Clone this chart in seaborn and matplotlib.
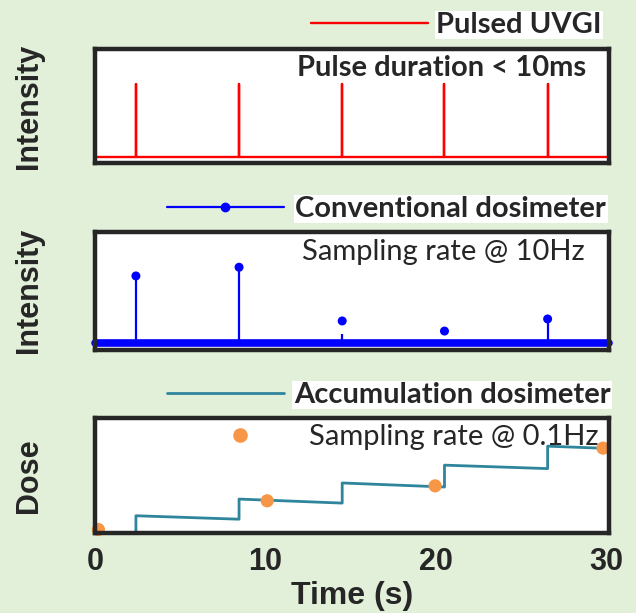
import numpy as np
import pandas as pd
import matplotlib
matplotlib.use("Agg")
import matplotlib.pyplot as plt
from matplotlib.lines import Line2D
import seaborn as sns

# pulse times (s) shared by all three panels
pulse_times = [2.4, 8.45, 14.5, 20.5, 26.55]
t_end = 30.15

# panel 1: pulsed UVGI intensity
uvgi_base = 0.055
uvgi_peak = [0.69, 0.69, 0.69, 0.69, 0.69]

# panel 2: conventional dosimeter (10 Hz)
conv_base = 0.055
conv_peak = [0.626, 0.70, 0.243, 0.157, 0.26]
conv_stem_top = [0.626, 0.70, 0.13, 0.055, 0.26]

# panel 3: accumulation dosimeter
dose_step_start = [0.15, 0.295, 0.435, 0.59, 0.755]
dose_step_end = [0.12, 0.26, 0.40, 0.56, 0.735]
sample_times = [0.2, 10.1, 19.95, 29.8]
sample_dose = [0.03, 0.28, 0.41, 0.738]

x_ticks = [0, 10, 20, 30]

bg = "#e2efd9"
dark = "#262626"
red = "#ff0000"
blue = "#0000ff"
teal = "#2f859b"
orange = "#f79646"

sns.set_theme(style="white")
plt.rcParams["font.family"] = ["Liberation Sans", "DejaVu Sans"]

# build the line tables
ux, uy = [0.0], [uvgi_base]
for t, p in zip(pulse_times, uvgi_peak):
    ux += [t, t, t]
    uy += [uvgi_base, p, uvgi_base]
ux.append(t_end)
uy.append(uvgi_base)
uvgi = pd.DataFrame({"time": ux, "intensity": uy})

dx, dy = [0.0, pulse_times[0]], [0.0, 0.0]
ends = pulse_times[1:] + [t_end]
for t, t2, s0, s1 in zip(pulse_times, ends, dose_step_start, dose_step_end):
    dx += [t, t2]
    dy += [s0, s1]
dose = pd.DataFrame({"time": dx, "dose": dy})

fig = plt.figure(figsize=(6.36, 6.13), dpi=100, facecolor=bg)
W, H = 636, 613
L, R = 95, 609
ax1 = fig.add_axes([L / W, 1 - 163 / H, (R - L) / W, 114 / H])
ax2 = fig.add_axes([L / W, 1 - 349.5 / H, (R - L) / W, 117.5 / H])
ax3 = fig.add_axes([L / W, 1 - 533 / H, (R - L) / W, 115 / H])

fs = 21
leg_font = dict(family="Lato", weight="bold", size=fs)
lab_font = dict(family="Liberation Sans", weight="bold", size=22, color=dark)
hl = 4.0

# panel 1
sns.lineplot(data=uvgi, x="time", y="intensity", ax=ax1, sort=False,
             estimator=None, color=red, lw=1.7, label="Pulsed UVGI")
leg1 = ax1.legend(loc="center left", bbox_to_anchor=(311 / W, 1 - 25 / H),
                  bbox_transform=fig.transFigure, frameon=False, prop=leg_font,
                  handlelength=hl, handletextpad=0.3, borderpad=0, borderaxespad=0)
fig.text(297 / W, 1 - 68 / H, "Pulse duration < 10ms", va="center",
         family="Lato", weight="bold", size=fs)

# panel 2
ax2.axhline(conv_base, color=blue, lw=5.5, solid_capstyle="round", clip_on=False)
ax2.vlines(pulse_times, conv_base, conv_stem_top, color=blue, lw=1.6)
sns.scatterplot(x=pulse_times, y=conv_peak, ax=ax2, color=blue, s=42,
                edgecolor="none", zorder=3)
h2 = Line2D([], [], color=blue, lw=1.6, marker="o", markersize=6)
leg2 = ax2.legend([h2], ["Conventional dosimeter"], loc="center left",
                  bbox_to_anchor=(167 / W, 1 - 209 / H), bbox_transform=fig.transFigure,
                  frameon=False, prop=leg_font, handlelength=hl, handletextpad=0.4,
                  borderpad=0, borderaxespad=0)
fig.text(302 / W, 1 - 252 / H, "Sampling rate @ 10Hz", va="center",
         family="Lato", size=fs)

# panel 3
sns.lineplot(data=dose, x="time", y="dose", ax=ax3, sort=False, estimator=None,
             color=teal, lw=2, label="Accumulation dosimeter")
sns.scatterplot(x=sample_times, y=sample_dose, ax=ax3, color=orange, s=90,
                edgecolor="none", zorder=3, clip_on=False)
h3a = Line2D([], [], color=teal, lw=2)
h3b = Line2D([], [], color=orange, lw=0, marker="o", markersize=9.5)
leg3 = ax3.legend([h3a], ["Accumulation dosimeter"], loc="center left",
                  bbox_to_anchor=(167 / W, 1 - 395 / H), bbox_transform=fig.transFigure,
                  frameon=False, prop=leg_font, handlelength=hl, handletextpad=0.35,
                  borderpad=0, borderaxespad=0)
ax3.add_artist(leg3)
leg3b = ax3.legend([h3b], ["Sampling rate @ 0.1Hz"], loc="center left",
                   bbox_to_anchor=(182 / W, 1 - 437 / H), bbox_transform=fig.transFigure,
                   frameon=False, prop=dict(family="Lato", size=fs), handlelength=hl,
                   handletextpad=0.35, borderpad=0, borderaxespad=0)

for leg in (leg1, leg2, leg3):
    for txt in leg.get_texts():
        txt.set_bbox(dict(facecolor="white", edgecolor="none", pad=1))

for ax, lab in zip((ax1, ax2, ax3), ("Intensity", "Intensity", "Dose")):
    ax.set_facecolor("white")
    ax.set_xlim(0, t_end)
    ax.set_ylim(0, 1)
    ax.set_yticks([])
    ax.set_ylabel(lab, **lab_font)
    ax.yaxis.set_label_coords(-0.10, 0.5)
    for sp in ax.spines.values():
        sp.set_visible(True)
        sp.set_linewidth(3.2)
        sp.set_color(dark)
        sp.set_zorder(5)

for ax in (ax1, ax2):
    ax.set_xticks([])
    ax.set_xlabel("")

ax3.set_xticks(x_ticks)
ax3.set_xticklabels([str(v) for v in x_ticks], fontweight="bold", fontsize=22,
                    color=dark, family="Liberation Sans")
ax3.tick_params(axis="x", length=0, pad=10)
ax3.set_xlabel("Time (s)", labelpad=3, family="Liberation Sans", weight="bold",
               size=23, color=dark)

fig.savefig("out.png", dpi=100, facecolor=bg)
